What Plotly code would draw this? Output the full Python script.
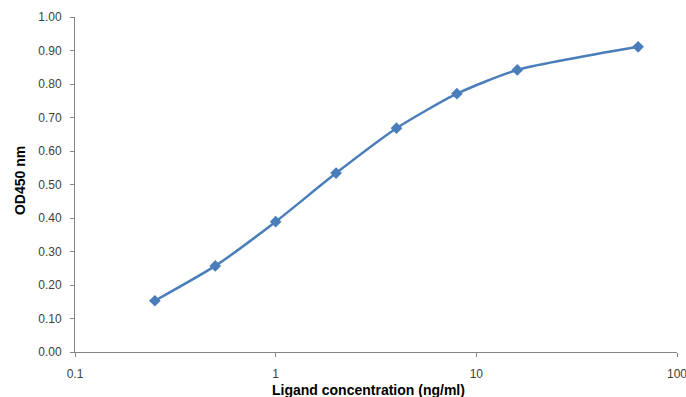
import plotly.graph_objects as go

concentration = [0.25, 0.5, 1, 2, 4, 8, 16, 64]
od450 = [0.153, 0.257, 0.389, 0.534, 0.668, 0.771, 0.842, 0.911]
x_ticks = [0.1, 1, 10, 100]
x_tick_labels = ["0.1", "1", "10", "100"]
y_ticks = [i / 10 for i in range(11)]
y_tick_labels = [f"{v:.2f}" for v in y_ticks]
x_title = "Ligand concentration (ng/ml)"
y_title = "OD450 nm"

font_family = "Liberation Sans, Arial, sans-serif"

fig = go.Figure()
fig.add_trace(go.Scatter(
    x=concentration, y=od450, mode="lines+markers",
    line=dict(color="#4A7EBB", width=2.5, shape="spline", smoothing=0.6),
    marker=dict(symbol="diamond", size=9, color="#4A7EBB"),
    showlegend=False,
))

fig.update_layout(
    width=686, height=397,
    margin=dict(l=75, r=9, t=17, b=45, autoexpand=False),
    paper_bgcolor="white", plot_bgcolor="white",
    font=dict(family=font_family, size=12, color="#404040"),
    xaxis=dict(
        type="log", range=[-1, 2],
        tickvals=x_ticks, ticktext=x_tick_labels,
        showgrid=False, showline=True, linecolor="#868686", linewidth=1,
        ticks="outside", ticklen=4, tickcolor="#868686",
        ticklabelstandoff=7, automargin=False, ticklabeloverflow="allow",
        zeroline=False,
    ),
    yaxis=dict(
        range=[0, 1.0],
        tickvals=y_ticks, ticktext=y_tick_labels,
        showgrid=False, showline=True, linecolor="#868686", linewidth=1,
        ticks="outside", ticklen=4, tickcolor="#868686",
        ticklabelstandoff=6, automargin=False,
        zeroline=False,
    ),
    annotations=[
        dict(text=f"<b>{x_title}</b>", xref="paper", yref="paper",
             x=0.487, y=-0.114, xanchor="center", yanchor="middle",
             showarrow=False, font=dict(size=14, color="#000000")),
        dict(text=f"<b>{y_title}</b>", xref="paper", yref="paper",
             x=-0.0914, y=0.513, xanchor="center", yanchor="middle",
             textangle=-90, showarrow=False,
             font=dict(size=14, color="#000000")),
    ],
)

fig.write_html("out.html", config={"displayModeBar": False},
               post_script="document.body.style.margin='0';document.body.style.overflow='hidden';")
